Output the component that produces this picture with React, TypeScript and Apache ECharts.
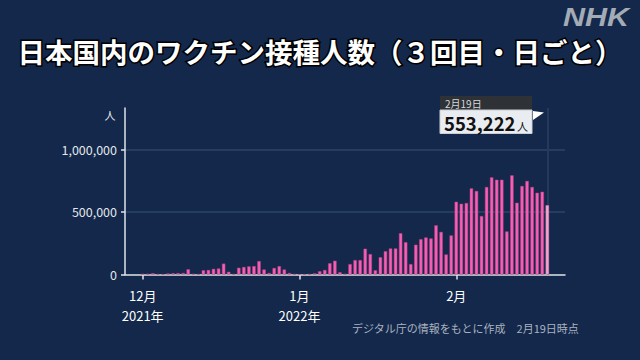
import React, { useEffect, useRef } from "react";
import * as echarts from "echarts";

// ---- data (daily 3rd-dose vaccinations) ----
const padBefore = ["11/28", "11/29", "11/30"];
const padAfter = ["2/20", "2/21", "2/22"];
const decValues = [5000, 6000, 10000, 2000, 1000, 8000, 10000, 11000, 12000, 42000, 5000, 2000, 34000, 36000, 45000, 48000, 87000, 22000, 3000, 54000, 60000, 65000, 67000, 107000, 40000, 12000, 52000, 67000, 40000, 12000, 3000];
const janValues = [1000, 1000, 2000, 9000, 26000, 36000, 90000, 110000, 18000, 5000, 83000, 115000, 115000, 206000, 163000, 34000, 138000, 186000, 208000, 208000, 330000, 258000, 83000, 238000, 282000, 296000, 288000, 393000, 340000, 160000, 312000];
const febValues = [581000, 565000, 571000, 688000, 667000, 467000, 699000, 776000, 757000, 757000, 344000, 792000, 573000, 707000, 747000, 699000, 653000, 661000, 553222];
const monthLabels: Record<string, string> = { "12/1": "12月\n2021年", "1/1": "1月\n2022年", "2/1": "2月" };
const yTicks = [0, 500000, 1000000];
const latestLabel = "2月19日";
const latestValue = 553222;
const latestCategory = "2/19";
const titleText = "日本国内のワクチン接種人数（３回目・日ごと）";
const footerText = "デジタル庁の情報をもとに作成　2月19日時点";

const BG = "#13284a";
const PINK = "#f65fb4";
const FONT = "'Noto Sans CJK JP', 'Noto Sans', sans-serif";

function buildCategories(): string[] {
  const cats: string[] = [...padBefore];
  decValues.forEach((_, i) => cats.push(`12/${i + 1}`));
  janValues.forEach((_, i) => cats.push(`1/${i + 1}`));
  febValues.forEach((_, i) => cats.push(`2/${i + 1}`));
  return cats.concat(padAfter);
}

export default function App() {
  const ref = useRef<HTMLDivElement>(null);
  useEffect(() => {
    if (!ref.current) return;
    const chart = echarts.init(ref.current, null, { renderer: "svg" });
    const categories = buildCategories();
    const values = [...decValues, ...janValues, ...febValues];
    const seriesData: any[] = [
      ...padBefore.map(() => null),
      ...values.map((v, i) =>
        i === values.length - 1
          ? { value: v, itemStyle: { color: "#f5a3d0", borderColor: "#d27fb0" } }
          : v
      ),
      ...padAfter.map(() => null),
    ];
    const showLabel = (_i: number, v: string) => v in monthLabels;

    chart.setOption({
      animation: false,
      backgroundColor: BG,
      textStyle: { fontFamily: FONT },
      grid: { left: 125, right: 75, top: 108, bottom: 85.5, containLabel: false },
      xAxis: {
        type: "category",
        data: categories,
        axisLine: { lineStyle: { color: "#dfe3e8", width: 1.5 } },
        axisTick: { show: true, interval: showLabel, alignWithLabel: true, length: 5, lineStyle: { color: "#dfe3e8", width: 1.5 } },
        axisLabel: {
          interval: showLabel,
          formatter: (v: string) => monthLabels[v] || "",
          color: "#ffffff",
          fontSize: 13,
          lineHeight: 20,
          margin: 11,
          fontFamily: FONT,
        },
        splitLine: { show: false },
      },
      yAxis: {
        type: "value",
        min: 0,
        max: 1330000,
        interval: 500000,
        axisLine: { show: true, lineStyle: { color: "#dfe3e8", width: 1.5 } },
        axisTick: { show: true, length: 4, lineStyle: { color: "#dfe3e8", width: 1.5 } },
        axisLabel: {
          showMaxLabel: false,
          margin: 8,
          color: "#e3e7ec",
          fontSize: 12.5,
          fontFamily: FONT,
          formatter: (v: number) => (yTicks.includes(v) ? v.toLocaleString("en-US") : ""),
        },
        splitLine: { show: true, showMinLine: false, showMaxLine: false, lineStyle: { color: "#2c4567", width: 1.5 } },
      },
      series: [
        {
          type: "bar",
          data: seriesData,
          barWidth: "66%",
          itemStyle: { color: PINK, borderColor: "#bd4189", borderWidth: 0.5 },
          markLine: {
            silent: true,
            symbol: ["none", "none"],
            label: { show: false },
            emphasis: { disabled: true },
            lineStyle: { color: "#233a5d", width: 2, type: "solid", opacity: 1 },
            data: [{ xAxis: latestCategory }],
            z: 1,
          },
        },
      ],
      graphic: [
        {
          type: "text",
          left: "center",
          top: 36,
          style: {
            text: titleText,
            font: `bold 27.5px ${FONT}`,
            fill: "#ffffff",
            stroke: "#000000",
            lineWidth: 3,
          },
        },
        {
          type: "text",
          x: 563,
          y: 5,
          scaleX: 1.22,
          style: {
            text: "NHK",
            font: "italic bold 25px 'Liberation Sans', Arial, sans-serif",
            fill: "#a3abb6",
          },
        },
        {
          type: "text",
          x: 110,
          y: 115,
          style: { text: "人", font: `11px ${FONT}`, fill: "#e3e7ec", align: "center", verticalAlign: "middle" },
        },
        {
          type: "text",
          x: 352,
          y: 328,
          style: { text: footerText, font: `11px ${FONT}`, fill: "#aab3c0", verticalAlign: "middle" },
        },
        { type: "rect", shape: { x: 440, y: 96, width: 92, height: 14 }, style: { fill: "#2e3236" } },
        {
          type: "text",
          x: 445,
          y: 103,
          style: { text: latestLabel, font: `10px ${FONT}`, lineHeight: 10, fill: "#d5d8dc", verticalAlign: "middle" },
        },
        { type: "rect", shape: { x: 440, y: 110, width: 92, height: 23.5 }, style: { fill: "#e9edf1", stroke: "#c9ced4", lineWidth: 1 } },
        {
          type: "text",
          x: 444,
          y: 122.5,
          style: {
            text: latestValue.toLocaleString("en-US"),
            font: `bold 18.5px ${FONT}`,
            lineHeight: 19,
            fill: "#111111",
            verticalAlign: "middle",
          },
        },
        {
          type: "text",
          x: 517,
          y: 126,
          style: { text: "人", font: `11px ${FONT}`, lineHeight: 11, fill: "#111111", verticalAlign: "middle" },
        },
        { type: "polygon", shape: { points: [[533, 111], [544, 112.5], [533, 120]] }, style: { fill: "#ffffff" } },
      ],
    });
    return () => chart.dispose();
  }, []);
  return <div ref={ref} style={{ width: 640, height: 360, position: "absolute", left: 0, top: 0 }} />;
}
